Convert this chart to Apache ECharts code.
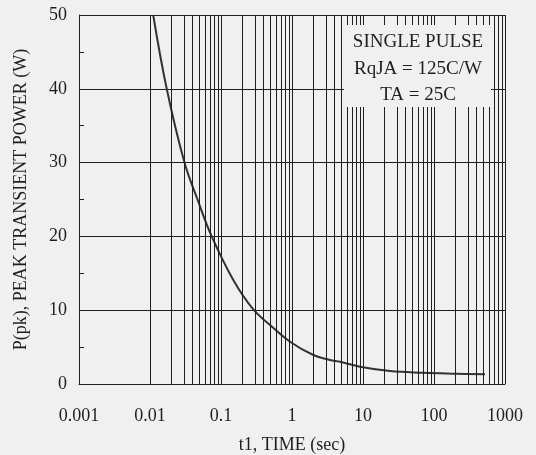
<!DOCTYPE html>
<html>
<head>
<meta charset="utf-8">
<script src="https://cdn.jsdelivr.net/npm/echarts@6/dist/echarts.min.js"></script>
<style>
html,body{margin:0;padding:0;background:#f0f0f0;}
#chart{width:536px;height:455px;}
</style>
</head>
<body>
<div id="chart"></div>
<script>
// Data
const timeSec = [0.0111, 0.0172, 0.0306, 0.0467, 0.074, 0.149, 0.285, 0.49, 0.938, 2.0, 3.43, 4.74, 9.07, 24.0, 70.7, 209, 523];
const peakPowerW = [50, 40, 30, 25.0, 20, 14.1, 10.1, 8.0, 5.73, 3.93, 3.25, 3.02, 2.34, 1.76, 1.53, 1.40, 1.31];
const xTickValues = [0.001, 0.01, 0.1, 1, 10, 100, 1000];
const xTickLabels = ['0.001', '0.01', '0.1', '1', '10', '100', '1000'];
const yTickLabels = ['0', '10', '20', '30', '40', '50'];
const minorMultipliers = [2, 3, 4, 5, 6, 7, 8, 9];
const noteLines = ['SINGLE PULSE', 'RqJA = 125C/W', 'TA = 25C'];

const FONT = '"Liberation Serif", "DejaVu Serif", serif';
const INK = '#1e1e1e';

// minor vertical grid lines at 2..9 x each decade
const minorLines = [];
for (let i = 0; i < xTickValues.length - 1; i++) {
  minorMultipliers.forEach(m => minorLines.push({ xAxis: m * xTickValues[i] }));
}

const chart = echarts.init(document.getElementById('chart'), null, { renderer: 'canvas' });
chart.setOption({
  backgroundColor: '#f0f0f0',
  animation: false,
  grid: { left: 79, right: 31, top: 15, bottom: 71, containLabel: false, outerBoundsMode: 'none' },
  xAxis: {
    type: 'log',
    logBase: 10,
    min: 0.001,
    max: 1000,
    splitNumber: 6,
    name: 't1, TIME (sec)',
    nameLocation: 'middle',
    nameGap: 52,
    nameTextStyle: { fontFamily: FONT, fontSize: 18, color: INK },
    axisLine: { show: true, lineStyle: { color: INK, width: 1 } },
    axisTick: { show: false },
    axisLabel: {
      margin: 23,
      fontFamily: FONT, fontSize: 18, color: INK,
      formatter: function (v) {
        const idx = Math.round(Math.log10(v)) + 3;
        return xTickLabels[idx] !== undefined ? xTickLabels[idx] : '';
      }
    },
    splitLine: { show: true, lineStyle: { color: INK, width: 1 } }
  },
  yAxis: {
    type: 'value',
    min: 0,
    max: 50,
    interval: 10,
    name: 'P(pk), PEAK TRANSIENT POWER (W)',
    nameLocation: 'middle',
    nameGap: 49,
    nameTextStyle: { fontFamily: FONT, fontSize: 18, color: INK },
    axisLine: { show: true, lineStyle: { color: INK, width: 1 } },
    axisTick: { show: true, inside: true, length: 5, lineStyle: { color: INK } },
    minorTick: { show: true, splitNumber: 2, length: 5, lineStyle: { color: INK, width: 1 } },
    axisLabel: {
      margin: 12,
      fontFamily: FONT, fontSize: 18, color: INK,
      formatter: function (v) { return yTickLabels[Math.round(v / 10)]; }
    },
    splitLine: { show: true, lineStyle: { color: INK, width: 1 } }
  },
  series: [{
    type: 'line',
    data: timeSec.map((t, i) => [t, peakPowerW[i]]),
    showSymbol: false,
    smooth: 0.4,
    clip: true,
    lineStyle: { color: '#333333', width: 2 },
    markLine: {
      silent: true,
      symbol: ['none', 'none'],
      label: { show: false },
      lineStyle: { color: INK, width: 1, type: 'solid' },
      data: minorLines
    },
    z: 3
  }],
  graphic: [{
    type: 'group',
    z: 100,
    children: [
      { type: 'rect', shape: { x: 344, y: 25, width: 147, height: 82 }, style: { fill: '#f0f0f0' }, z: 100 },
      ...noteLines.map((txt, i) => ({
        type: 'text',
        z: 101,
        x: 418,
        y: 42 + i * 26.7,
        style: { text: txt, font: '19px ' + FONT, fill: INK, textAlign: 'center', textVerticalAlign: 'middle' }
      }))
    ]
  }]
});
</script>
</body>
</html>
